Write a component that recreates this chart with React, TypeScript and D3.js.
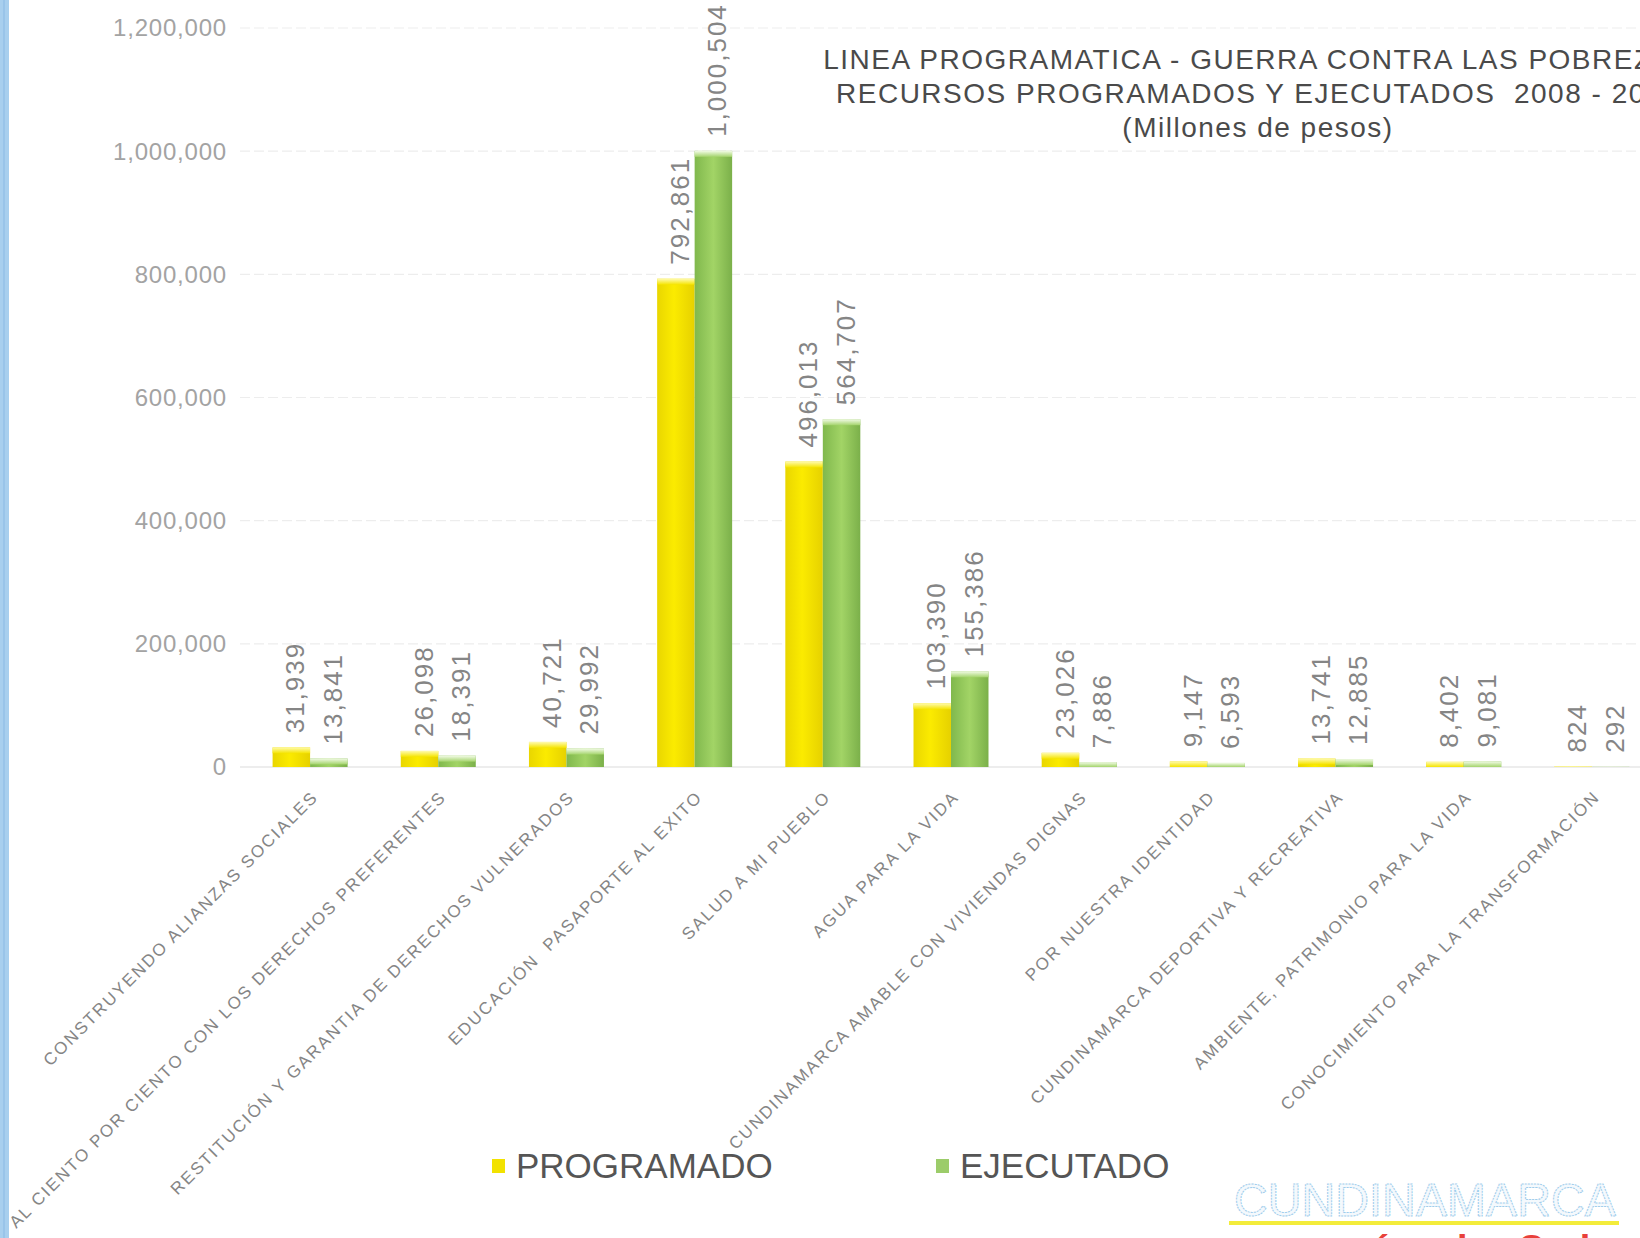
import React from "react";
import * as d3 from "d3";

const categories = [
  "CONSTRUYENDO ALIANZAS SOCIALES",
  "AL CIENTO POR CIENTO CON LOS DERECHOS PREFERENTES",
  "RESTITUCIÓN Y GARANTIA DE DERECHOS VULNERADOS",
  "EDUCACIÓN  PASAPORTE AL EXITO",
  "SALUD A MI PUEBLO",
  "AGUA PARA LA VIDA",
  "CUNDINAMARCA AMABLE CON VIVIENDAS DIGNAS",
  "POR NUESTRA IDENTIDAD",
  "CUNDINAMARCA DEPORTIVA Y RECREATIVA",
  "AMBIENTE, PATRIMONIO PARA LA VIDA",
  "CONOCIMIENTO PARA LA TRANSFORMACIÓN",
];
const programado = [31939, 26098, 40721, 792861, 496013, 103390, 23026, 9147, 13741, 8402, 824];
const ejecutado = [13841, 18391, 29992, 1000504, 564707, 155386, 7886, 6593, 12885, 9081, 292];
const series = ["PROGRAMADO", "EJECUTADO"];
const yTicks = [0, 200000, 400000, 600000, 800000, 1000000, 1200000];
const titleLines = [
  "LINEA PROGRAMATICA - GUERRA CONTRA LAS POBREZAS",
  "RECURSOS PROGRAMADOS Y EJECUTADOS  2008 - 2009",
  "(Millones de pesos)",
];

const W = 1640;
const H = 1238;
const FONT = "'Liberation Sans', Arial, sans-serif";

export default function App() {
  const x = d3.scaleBand<string>().domain(categories).range([246, 1656]).paddingInner(0.415).paddingOuter(0.2075);
  const xs = d3.scaleBand<string>().domain(series).range([0, x.bandwidth()]);
  const y = d3.scaleLinear().domain([0, 1200000]).range([767, 28]);
  const fmt = d3.format(",");
  const values = [programado, ejecutado];
  const fills = ["url(#gY)", "url(#gG)"];
  const caps = ["url(#cY)", "url(#cG)"];

  return (
    <svg width={W} height={H} style={{ position: "absolute", left: 0, top: 0, background: "#fff" }} fontFamily={FONT}>
      <defs>
        <linearGradient id="gY" x1="0" x2="1" y1="0" y2="0">
          <stop offset="0" stopColor="#e9d600" />
          <stop offset="0.45" stopColor="#fbeb00" />
          <stop offset="1" stopColor="#e6d100" />
        </linearGradient>
        <linearGradient id="gG" x1="0" x2="1" y1="0" y2="0">
          <stop offset="0" stopColor="#80b84d" />
          <stop offset="0.5" stopColor="#a2d466" />
          <stop offset="1" stopColor="#7bb04a" />
        </linearGradient>
        <linearGradient id="cY" x1="0" x2="0" y1="0" y2="1">
          <stop offset="0" stopColor="#fffbb0" />
          <stop offset="1" stopColor="#f5e400" />
        </linearGradient>
        <linearGradient id="cG" x1="0" x2="0" y1="0" y2="1">
          <stop offset="0" stopColor="#f2fbe6" />
          <stop offset="1" stopColor="#a4d46c" />
        </linearGradient>
      </defs>
      <rect x={0} y={0} width={W} height={H} fill="#fff" />
      {/* left scan strip */}
      <rect x={0} y={0} width={9} height={H} fill="#a8cfee" />
      <rect x={3} y={0} width={2} height={H} fill="#8fbde6" opacity={0.6} />

      {/* gridlines */}
      {yTicks.map((t) => (
        <line
          key={"g" + t}
          x1={240}
          x2={W}
          y1={y(t)}
          y2={y(t)}
          stroke={t === 0 ? "#dcdcdc" : "#ededed"}
          strokeWidth={1.2}
          strokeDasharray={t === 0 ? undefined : "10,4"}
        />
      ))}

      {/* y tick labels */}
      {yTicks.map((t) => (
        <text key={"t" + t} x={227} y={y(t)} dy="0.35em" textAnchor="end" fontSize={24} letterSpacing={0.8} fill="#a3a3a3">
          {fmt(t)}
        </text>
      ))}

      {/* bars */}
      {categories.map((c, i) => (
        <g key={c} transform={`translate(${x(c)},0)`}>
          {series.map((s, k) => {
            const v = values[k][i];
            const bx = xs(s)!;
            const bw = xs.bandwidth();
            const top = y(v);
            const h = y(0) - top;
            const capH = Math.min(6, h);
            return (
              <g key={s}>
                <rect x={bx} y={top} width={bw} height={h} fill={fills[k]} />
                <rect x={bx} y={top} width={bw} height={capH} fill={caps[k]} />
                <text
                  transform={`translate(${bx + bw / 2 + 4},${top - 14}) rotate(-90)`}
                  dy="0.35em"
                  textAnchor="start"
                  fontSize={26}
                  letterSpacing={2}
                  fill="#858585"
                >
                  {fmt(v)}
                </text>
              </g>
            );
          })}
        </g>
      ))}

      {/* category labels */}
      {categories.map((c) => {
        const cx = x(c)! + x.bandwidth() / 2;
        return (
          <text
            key={"l" + c}
            transform={`translate(${cx + 9},${798}) rotate(-45)`}
            textAnchor="end"
            fontSize={17}
            letterSpacing={2}
            fill="#858585"
            style={{ whiteSpace: "pre" }}
          >
            {c}
          </text>
        );
      })}

      {/* title */}
      {titleLines.map((t, i) => (
        <text
          key={"ti" + i}
          x={1258}
          y={69 + i * 34}
          textAnchor="middle"
          fontSize={28}
          letterSpacing={1.5}
          fill="#4a4a4a"
          style={{ whiteSpace: "pre" }}
        >
          {t}
        </text>
      ))}

      {/* legend */}
      {series.map((s, k) => {
        const lx = k === 0 ? 492 : 936;
        return (
          <g key={"lg" + s}>
            <rect x={lx} y={1159} width={13} height={14} fill={k === 0 ? "#f2e200" : "#9ccc6a"} />
            <text x={lx + 24} y={1178} fontSize={35} fill="#555">
              {s}
            </text>
          </g>
        );
      })}

      {/* logo */}
      <text
        x={1234}
        y={1216}
        fontSize={46}
        textLength={382}
        lengthAdjust="spacingAndGlyphs"
        fill="#f4f9fd"
        stroke="#9fcdec"
        strokeWidth={1}
        strokeDasharray="2,1"
      >
        CUNDINAMARCA
      </text>
      <rect x={1229} y={1221} width={390} height={4} fill="#f3ec3a" />
      <text x={1240} y={1262} fontSize={38} fontWeight="bold" fill="#e8403a" letterSpacing={6}>
        corazón de Colombia
      </text>
    </svg>
  );
}
